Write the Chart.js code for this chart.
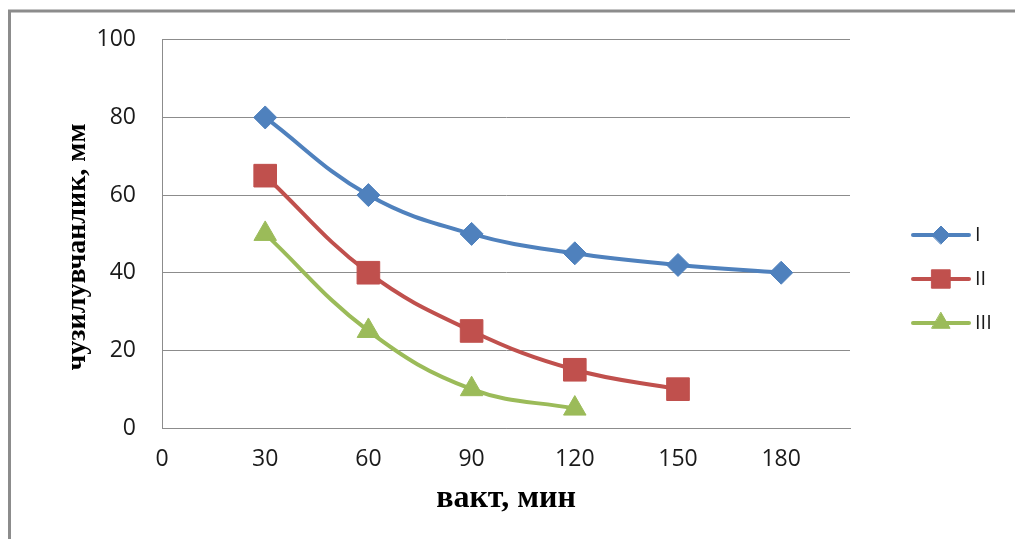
<!DOCTYPE html>
<html>
<head>
<meta charset="utf-8">
<script src="https://cdn.jsdelivr.net/npm/chart.js@4.4.1/dist/chart.umd.min.js"></script>
<style>
  html, body { margin: 0; padding: 0; background: #fff; }
  canvas { display: block; }
</style>
</head>
<body>
<canvas id="c" width="1015" height="539"></canvas>
<script>
// Time points, minutes
const timeMin = [30, 60, 90, 120, 150, 180];
// Measured values per series, mm
const seriesI = [80, 60, 50, 45, 42, 40];
const seriesII = [65, 40, 25, 15, 10];
const seriesIII = [50, 25, 10, 5];
const seriesNames = ['I', 'II', 'III'];
const seriesColors = ['#4F81BD', '#C0504D', '#9BBB59'];
const seriesMarkers = ['rectRot', 'rect', 'triangle'];
const markerRadius = [11.5, 16, 13];
const legendMarkerRadius = [9, 13, 10.5];
// Axis ticks
const xTicks = [0, 30, 60, 90, 120, 150, 180];
const yTicks = [0, 20, 40, 60, 80, 100];
const xTitle = 'вакт, мин';
const yTitle = 'чузилувчанлик, мм';

const allSeries = [seriesI, seriesII, seriesIII];

const datasets = allSeries.map((vals, i) => ({
  label: seriesNames[i],
  data: vals.map((v, k) => ({ x: timeMin[k], y: v })),
  borderColor: seriesColors[i],
  backgroundColor: seriesColors[i],
  borderWidth: 4,
  tension: 0.4,
  pointStyle: seriesMarkers[i],
  pointRadius: markerRadius[i],
  pointHoverRadius: markerRadius[i],
  pointBackgroundColor: seriesColors[i],
  pointBorderColor: seriesColors[i],
  pointBorderWidth: 1,
  fill: false
}));

// Outer frame (left and top edges)
const framePlugin = {
  id: 'frame',
  beforeDraw(chart) {
    const ctx = chart.ctx;
    ctx.save();
    ctx.strokeStyle = '#8c8c8c';
    ctx.lineWidth = 3;
    ctx.beginPath();
    ctx.moveTo(9.5, 539);
    ctx.lineTo(9.5, 11);
    ctx.lineTo(1015, 11);
    ctx.stroke();
    ctx.restore();
  }
};

// Rotated y-axis title
const yTitlePlugin = {
  id: 'yTitle',
  afterDraw(chart) {
    const ctx = chart.ctx;
    ctx.save();
    ctx.translate(78, 247);
    ctx.rotate(-Math.PI / 2);
    ctx.font = 'bold 28px "Liberation Serif"';
    ctx.fillStyle = '#000';
    ctx.textAlign = 'center';
    ctx.textBaseline = 'middle';
    ctx.fillText(yTitle, 0, 0);
    ctx.restore();
  }
};

// Legend with line + marker swatches
const lineLegendPlugin = {
  id: 'lineLegend',
  afterDraw(chart) {
    const ctx = chart.ctx;
    const x0 = 913, x1 = 969, rowY = [235, 279, 323];
    chart.data.datasets.forEach((ds, i) => {
      const y = rowY[i];
      ctx.save();
      ctx.strokeStyle = ds.borderColor;
      ctx.lineWidth = 4;
      ctx.lineCap = 'round';
      ctx.beginPath();
      ctx.moveTo(x0, y);
      ctx.lineTo(x1, y);
      ctx.stroke();
      ctx.fillStyle = ds.backgroundColor;
      ctx.strokeStyle = ds.borderColor;
      ctx.lineWidth = 1;
      Chart.helpers.drawPoint(ctx, {
        pointStyle: ds.pointStyle,
        radius: legendMarkerRadius[i],
        rotation: 0,
        borderWidth: 1
      }, (x0 + x1) / 2, y);
      ctx.fillStyle = '#1a1a1a';
      ctx.font = '20px "Open Sans"';
      ctx.textAlign = 'left';
      ctx.textBaseline = 'middle';
      ctx.fillText(ds.label, x1 + 6, y);
      ctx.restore();
    });
  }
};

new Chart(document.getElementById('c'), {
  type: 'line',
  data: { datasets },
  plugins: [framePlugin, yTitlePlugin, lineLegendPlugin],
  options: {
    responsive: false,
    devicePixelRatio: 1,
    animation: false,
    layout: { padding: { top: 39, left: 0, right: 165, bottom: 0 } },
    plugins: {
      legend: { display: false },
      tooltip: { enabled: false }
    },
    scales: {
      x: {
        type: 'linear',
        min: 0,
        max: 200,
        afterBuildTicks(scale) { scale.ticks = xTicks.map(v => ({ value: v })); },
        afterFit(scale) { scale.height = 111; },
        grid: { display: false, drawTicks: false },
        border: { display: true, color: '#8c8c8c', width: 1 },
        ticks: {
          color: '#1a1a1a',
          font: { family: '"Open Sans"', size: 23 },
          padding: 18,
          maxRotation: 0,
          autoSkip: false
        },
        title: {
          display: true,
          text: xTitle,
          color: '#000',
          font: { family: '"Liberation Serif"', size: 32, weight: 'bold' },
          padding: { top: 0, bottom: 21 }
        }
      },
      y: {
        type: 'linear',
        min: 0,
        max: 100,
        afterBuildTicks(scale) { scale.ticks = yTicks.map(v => ({ value: v })); },
        afterFit(scale) { scale.width = 162; },
        grid: { color: '#8c8c8c', lineWidth: 1, drawTicks: false },
        border: { display: true, color: '#8c8c8c', width: 1 },
        ticks: {
          color: '#1a1a1a',
          font: { family: '"Open Sans"', size: 23 },
          padding: 26
        }
      }
    }
  }
});
</script>
</body>
</html>
